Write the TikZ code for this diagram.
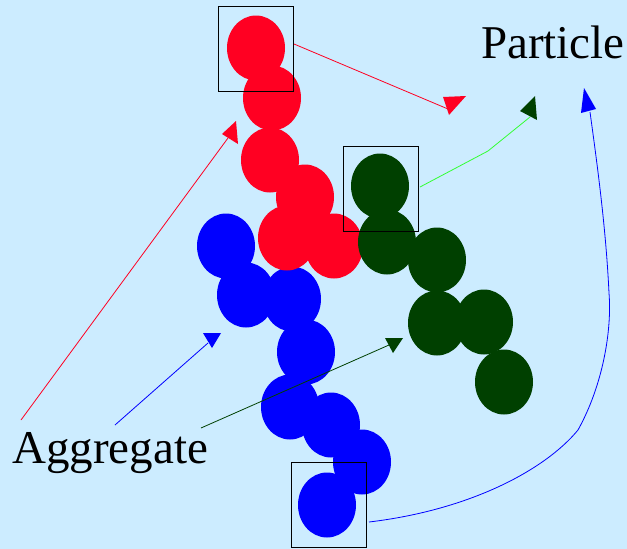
\documentclass[tikz,border=0pt]{standalone}
\usepackage{fontspec}
\setmainfont{Liberation Serif}
\begin{document}
\begin{tikzpicture}[x=1pt,y=-1pt,
  bead/.style={fill=#1,draw=none},
  frame/.style={draw=black,line width=0.8pt,fill=none,inner sep=0pt,minimum width=75pt,minimum height=85pt},
  label/.style={inner sep=0pt,anchor=base west,font=\fontsize{47}{51}\selectfont},
  link/.style={draw=#1,line width=0.8pt},
  head/.style={fill=#1,draw=none}]
\definecolor{sky}{HTML}{CCECFF}
\definecolor{beadred}{HTML}{FF0022}
\definecolor{beadgreen}{HTML}{004000}
\definecolor{beadblue}{HTML}{0000FF}
\definecolor{lime}{HTML}{33FF33}
\fill[sky] (0,0) rectangle (627,549);
\useasboundingbox (0,0) rectangle (627,549);

% blue chain
\foreach \p in {(226,246),(246,295),(292,299),(306,352),(290,407),(331,425),(362,462),(327,505)}
  \fill[bead=beadblue] \p ellipse [x radius=29, y radius=32.5];
% red chain
\foreach \p in {(256,48),(272,98),(270,160),(305,197),(287,238),(334,246)}
  \fill[bead=beadred] \p ellipse [x radius=29, y radius=32.5];
% green chain
\foreach \p in {(380,186),(387,242),(437,260),(437,323),(484,322),(504,382)}
  \fill[bead=beadgreen] \p ellipse [x radius=29, y radius=32.5];

% frames around single particles
\node[frame] (fr) at (255.5,48.5) {};
\node[frame] (fg) at (380.5,188.5) {};
\node[frame] (fb) at (329,504.5) {};

% labels
\node[label] (particle) at (481,58) {Particle};
\node[label] (aggregate) at (12,463) {Aggregate};

% connector end points
\coordinate (r1s) at (294,44);
\coordinate (r1e) at (448,109);
\coordinate (r2s) at (21,420);
\coordinate (r2e) at (228,138);
\coordinate (b1s) at (115,425);
\coordinate (b1e) at (208,343);
\coordinate (g1s) at (201,428);
\coordinate (g1e) at (389,345);
\coordinate (g2s) at (420,187);
\coordinate (g2e) at (530,117);
\coordinate (b2s) at (369,522);
\coordinate (b2e) at (590,112);

% connectors
\draw[link=beadred] (r1s) -- (r1e);
\draw[link=beadred] (r2s) -- (r2e);
\draw[link=beadblue] (b1s) -- (b1e);
\draw[link=beadgreen] (g1s) -- (g1e);
\draw[link=lime] (g2s) -- (488,151) -- (g2e);
\draw[link=beadblue] (b2s) .. controls (470,510) and (545,470) .. (578,430)
  .. controls (603,385) and (612,330) .. (609,293)
  .. controls (606,230) and (598,170) .. (b2e);

% arrow heads
\fill[head=beadred] (443,97) -- (466,96) -- (449,115) -- cycle;
\fill[head=beadred] (222,134) -- (236,121) -- (238,144) -- cycle;
\fill[head=beadblue] (203,333) -- (221,333) -- (212,348) -- cycle;
\fill[head=beadgreen] (385,338) -- (403,338) -- (393,353) -- cycle;
\fill[head=beadgreen] (520,111) -- (535,96) -- (537,120) -- cycle;
\fill[head=beadblue] (581,113) -- (584,88) -- (596,109) -- cycle;
\end{tikzpicture}
\end{document}
